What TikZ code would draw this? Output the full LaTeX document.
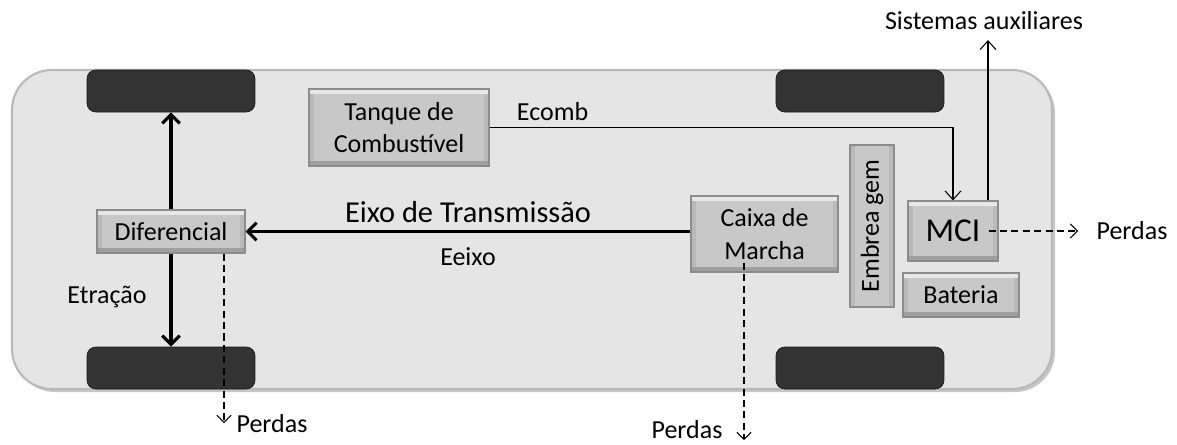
\documentclass[tikz,border=0pt]{standalone}
\usepackage{fontspec}
\setmainfont{Carlito}
\usetikzlibrary{arrows.meta,positioning}

\begin{document}
\begin{tikzpicture}[
    x=0.02cm, y=-0.02cm,
    every node/.style={font=\fontsize{14.8}{18.5}\selectfont},
    part/.style={rectangle, draw=gray!90, line width=0.6pt, fill=gray!55, align=center, inner sep=0pt,
        path picture={
            \fill[gray!18] (path picture bounding box.north west) rectangle ([yshift=-3pt]path picture bounding box.north east);
            \fill[gray!75] (path picture bounding box.south west) rectangle ([yshift=3pt]path picture bounding box.south east);
            \fill[gray!43] ([shift={(3pt,-3pt)}]path picture bounding box.north west) rectangle ([shift={(-3pt,3pt)}]path picture bounding box.south east);
        }},
    wheel/.style={rectangle, rounded corners=5pt, fill=black!80, draw=black!90, minimum width=3.36cm, minimum height=0.84cm},
    flow/.style={-{Straight Barb[length=5pt,width=10pt]}, line width=1.8pt},
    feed/.style={-{Straight Barb[length=5pt,width=9pt]}, line width=0.6pt},
    loss/.style={-{Straight Barb[length=4pt,width=8pt]}, line width=0.6pt, dash pattern=on 4pt off 2.5pt}
]
\useasboundingbox (0,0) rectangle (1177,444);

% chassis
\fill[rounded corners=0.8cm, gray!45] (15,73) rectangle (1055,392);
\draw[rounded corners=0.8cm, fill=gray!20, draw=gray!55, line width=1.2pt] (12,70) rectangle (1052,389);

% wheels
\node[wheel] (wtl) at (171,91) {};
\node[wheel] (wbl) at (171,368) {};
\node[wheel] (wtr) at (860,91) {};
\node[wheel] (wbr) at (860,368) {};

% parts
\node[part, minimum width=3.6cm, minimum height=1.54cm] (tank) at (399,127.5) {Tanque de\\Combustível};
\node[part, minimum width=2.96cm, minimum height=0.86cm] (dif) at (171,231.5) {Diferencial};
\node[part, minimum width=2.94cm, minimum height=1.52cm] (caixa) at (764.5,234) {Caixa de\\Marcha};
\node[part, minimum width=3.24cm, minimum height=0.88cm, rotate=90] (emb) at (872,226) {Embrea gem};
\node[part, minimum width=1.8cm, minimum height=1.2cm, font=\fontsize{19}{22}\selectfont] (mci) at (953,231) {MCI};
\node[part, minimum width=2.32cm, minimum height=0.88cm] (bat) at (961,295) {Bateria};

% labels
\node (aux) at (984,21) {Sistemas auxiliares};
\node (tracao) at (107,297) {Etração};
\node (perdas1) at (272,424) {Perdas};
\node (perdas2) at (687,430) {Perdas};
\node (perdas3) at (1132,231) {Perdas};

% power flow
\draw[flow] (dif.north) -- (wtl.south);
\draw[flow] (dif.south) -- (wbl.north);
\draw[flow] (dif.east -| caixa.west) -- node[above=1pt, font=\fontsize{17.3}{20}\selectfont] {Eixo de Transmissão} node[below=5pt] {Eeixo} (dif.east);
\draw[feed] (tank.east) -| node[pos=0.068, above] {Ecomb} (mci.north);
\coordinate (auxtip) at (988,40);
\draw[feed] (mci.north -| auxtip) -- (auxtip);

% losses
\coordinate (l1) at (224,423);
\coordinate (l2) at (744,440);
\coordinate (l3) at (1078,231);
\draw[loss] (dif.south -| l1) -- (l1);
\draw[loss] (744,263) -- (l2);
\draw[loss] ([xshift=-0.2cm]mci.east) -- (l3);

\end{tikzpicture}
\end{document}
